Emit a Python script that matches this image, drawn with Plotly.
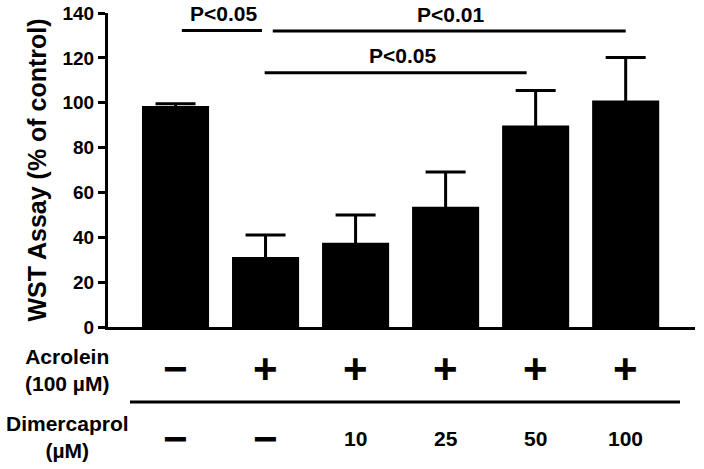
import plotly.graph_objects as go

groups = ["Control", "Acrolein", "Acr+D10", "Acr+D25", "Acr+D50", "Acr+D100"]
wst_mean = [98.5, 31.2, 37.6, 53.6, 89.8, 101.0]
wst_err = [1.0, 9.8, 12.3, 15.5, 15.6, 19.2]
acrolein_row = ["−", "+", "+", "+", "+", "+"]
dimercaprol_row = ["−", "−", "10", "25", "50", "100"]
y_ticks = [0, 20, 40, 60, 80, 100, 120, 140]

FONT = "Liberation Sans, Arial, sans-serif"

fig = go.Figure()
fig.add_trace(go.Bar(
    x=groups, y=wst_mean, width=0.745,
    marker=dict(color="black", line=dict(width=0)),
    error_y=dict(type="data", array=wst_err, symmetric=True,
                 color="black", thickness=3, width=20),
    showlegend=False,
))

# significance brackets
sig = [
    (0.07, 0.96, 132.2, 0.53, "P<0.05"),
    (1.08, 5.00, 132.0, 3.05, "P<0.01"),
    (0.99, 3.90, 113.4, 2.52, "P<0.05"),
]
for x0, x1, yl, xt, txt in sig:
    fig.add_shape(type="line", xref="x", yref="y", x0=x0, x1=x1, y0=yl, y1=yl,
                  line=dict(color="black", width=3))
    fig.add_annotation(x=xt, y=yl + 1.5, xref="x", yref="y", text=txt,
                       showarrow=False, yanchor="bottom",
                       font=dict(family=FONT, size=21, color="black", weight="bold"))

# table rows below the axis (positions relative to the plot area)
H = 314.0
def py(p):
    return (327.0 - p) / H

for g, a, d in zip(groups, acrolein_row, dimercaprol_row):
    fig.add_annotation(x=g, y=py(368), xref="x", yref="paper", text=a,
                       showarrow=False, yanchor="middle",
                       font=dict(family=FONT, size=42, color="black", weight="bold"))
    is_sym = d in ("−", "+")
    fig.add_annotation(x=g, y=py(438), xref="x", yref="paper", text=d,
                       showarrow=False, yanchor="middle",
                       font=dict(family=FONT, size=42 if is_sym else 21, color="black", weight="bold"))

fig.add_annotation(x=(67 - 108) / 587, y=py(370), xref="paper", yref="paper",
                   text="Acrolein<br>(100 µM)", showarrow=False, xanchor="center", yanchor="middle",
                   align="center",
                   font=dict(family=FONT, size=21, color="black", weight="bold"))
fig.add_annotation(x=(67 - 108) / 587, y=py(437), xref="paper", yref="paper",
                   text="Dimercaprol<br>(µM)", showarrow=False, xanchor="center", yanchor="middle",
                   align="center",
                   font=dict(family=FONT, size=21, color="black", weight="bold"))
fig.add_shape(type="line", xref="paper", yref="paper",
              x0=(130 - 108) / 587, x1=(680 - 108) / 587, y0=py(402), y1=py(402),
              line=dict(color="black", width=3))

fig.update_layout(
    width=704, height=469,
    margin=dict(l=108, r=9, t=13, b=142, autoexpand=False),
    plot_bgcolor="white", paper_bgcolor="white",
    bargap=0.25,
    font=dict(family=FONT, color="black"),
    xaxis=dict(range=[-0.75, 5.77], showticklabels=False, ticks="",
               showline=True, linecolor="black", linewidth=3, showgrid=False,
               zeroline=False, fixedrange=True, automargin=False),
    yaxis=dict(range=[0, 140], tickvals=y_ticks, ticks="outside", ticklen=7,
               tickwidth=3, tickcolor="black", showline=True, linecolor="black",
               linewidth=3, showgrid=False, zeroline=False, automargin=False,
               tickfont=dict(family=FONT, size=19, color="black", weight="bold"),
               title=dict(text="WST Assay (% of control)", standoff=9,
                          font=dict(family=FONT, size=25, color="black", weight="bold"))),
)

# remove the page's default 8px body margin so the figure sits at the window's corner
fig.write_html("out.html", config={"displayModeBar": False},
               post_script="document.body.style.margin='0';")
